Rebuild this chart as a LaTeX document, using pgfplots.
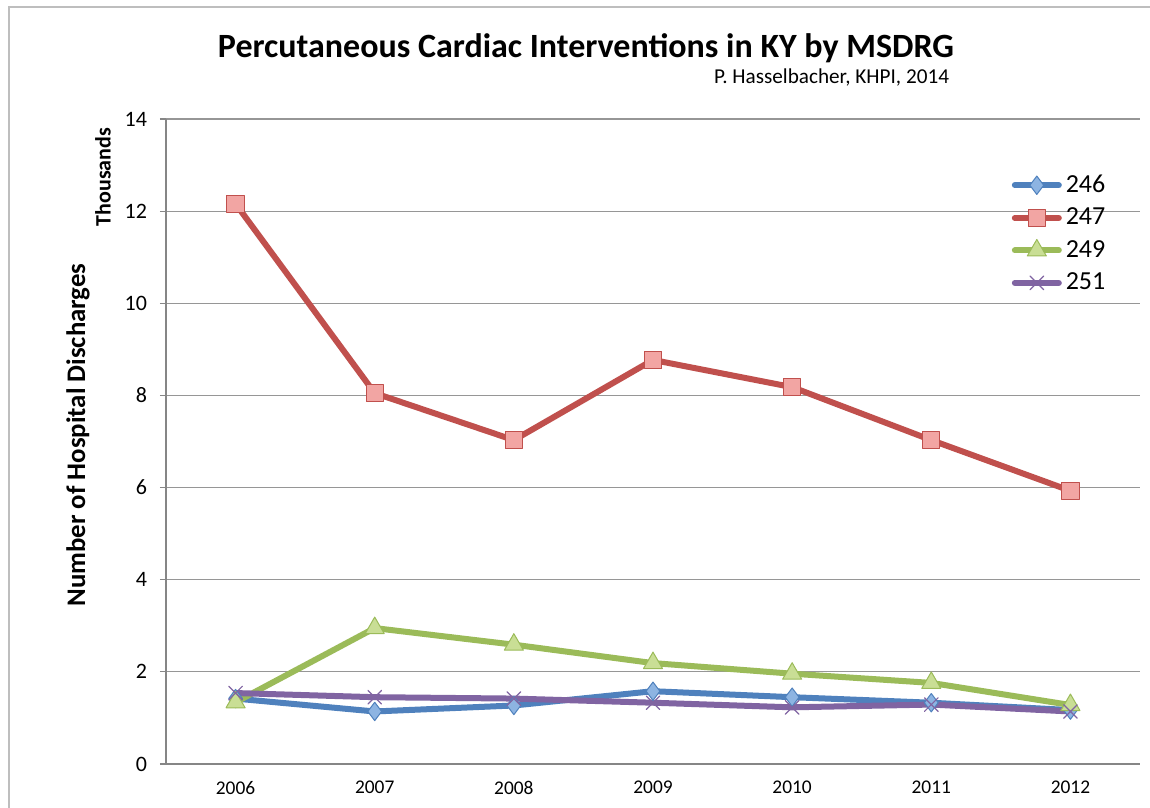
\documentclass[border=0pt]{standalone}
\usepackage{pgfplots}
\pgfplotsset{compat=1.18}
\usepackage{fontspec}
\setmainfont{Carlito}
\definecolor{c246}{HTML}{4F81BD}
\definecolor{c247}{HTML}{C0504D}
\definecolor{c249}{HTML}{9BBB59}
\definecolor{c251}{HTML}{8064A2}
\definecolor{f246}{HTML}{8DB4E2}
\definecolor{f247}{HTML}{F2A5A3}
\definecolor{f249}{HTML}{C9DE95}
\definecolor{axisgray}{RGB}{134,134,134}
\definecolor{gridgray}{RGB}{150,150,150}
\definecolor{framegray}{RGB}{190,190,190}
\begin{document}
\begin{tikzpicture}
\useasboundingbox (0,0) rectangle (575bp,404bp);
\draw[framegray,line width=0.6bp] (4.5bp,0) -- (4.5bp,400.5bp) -- (575bp,400.5bp);
\node[font=\fontsize{17bp}{20bp}\selectfont\bfseries] at (293bp,380bp) {Percutaneous Cardiac Interventions in KY by MSDRG};
\node[anchor=east,font=\fontsize{10.6bp}{12bp}\selectfont] at (478bp,365bp) {P. Hasselbacher, KHPI, 2014};
\begin{axis}[
  at={(83bp,22bp)}, anchor=south west,
  scale only axis, width=487bp, height=322.5bp,
  xmin=-0.5, xmax=6.5, ymin=0, ymax=14,
  axis lines*=left,
  axis line style={axisgray,line width=0.6bp},
  xtick={0,...,6},
  xticklabels={2006,2007,2008,2009,2010,2011,2012},
  x tick label style={font=\fontsize{9.7bp}{11bp}\selectfont, yshift=-2bp},
  extra x ticks={-0.5,0.5,...,6.5},
  extra x tick labels={},
  extra x tick style={major tick length=3bp, tick style={axisgray,line width=0.6bp}},
  x tick style={draw=none},
  ytick={0,2,...,14},
  y tick label style={font=\fontsize{11bp}{12bp}\selectfont, xshift=-3bp},
  y tick style={axisgray,line width=0.6bp},
  major tick length=3bp,
  tick align=outside,
  ymajorgrids,
  grid style={gridgray,line width=0.6bp},
  /pgf/number format/assume math mode=true,
  ylabel={Number of Hospital Discharges},
  ylabel style={font=\fontsize{13.4bp}{15bp}\selectfont\bfseries, at={(axis description cs:-0.0903,0.51)}, anchor=center},
  clip=false,
  legend style={draw=none, fill=none, at={(0.868,0.92)}, anchor=north west,
    font=\fontsize{13bp}{15bp}\selectfont, row sep=2.3bp, inner sep=0pt,
    /tikz/every even column/.append style={column sep=0bp}},
  legend cell align=left,
  legend image code/.code={\draw[mark repeat=2,mark phase=2,#1] plot coordinates {(0bp,0bp) (11bp,0bp) (22bp,0bp)};},
  every axis plot/.append style={line width=3bp, line join=round, line cap=round},
]
\addplot[c246, mark=diamond*, mark size=4.6bp, mark options={fill=f246, draw=c246, line width=0.5bp}]
  coordinates {(0,1.42) (1,1.14) (2,1.27) (3,1.58) (4,1.45) (5,1.33) (6,1.17)};
\addlegendentry{246}
\addplot[c247, mark=square*, mark size=4.3bp, mark options={fill=f247, draw=c247, line width=0.5bp}]
  coordinates {(0,12.16) (1,8.05) (2,7.03) (3,8.77) (4,8.18) (5,7.03) (6,5.93)};
\addlegendentry{247}
\addplot[c249, mark=triangle*, mark size=5.5bp, mark options={fill=f249, draw=c249, line width=0.5bp}]
  coordinates {(0,1.34) (1,2.95) (2,2.59) (3,2.19) (4,1.96) (5,1.76) (6,1.28)};
\addlegendentry{249}
\addplot[c251, mark=x, mark size=4.8bp, mark options={draw=c251, line width=0.6bp}]
  coordinates {(0,1.54) (1,1.45) (2,1.42) (3,1.33) (4,1.23) (5,1.29) (6,1.14)};
\addlegendentry{251}
\node[font=\fontsize{11bp}{12bp}\selectfont\bfseries, rotate=90] at (axis description cs:-0.0647,0.91) {Thousands};
\end{axis}
\end{tikzpicture}
\end{document}
